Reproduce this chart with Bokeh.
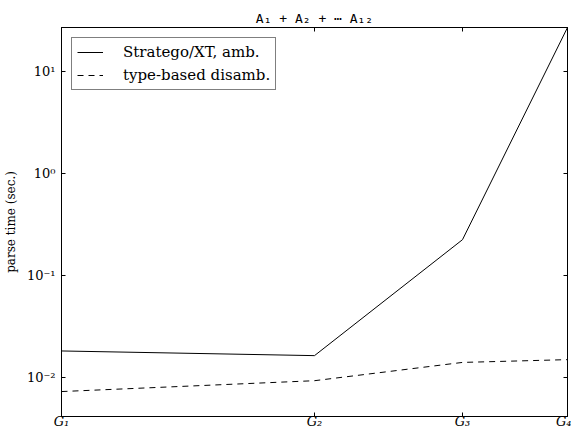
from bokeh.plotting import figure
from bokeh.models import LogAxis, FixedTicker, Range1d, Legend, LegendItem
from bokeh.embed import file_html
from bokeh.resources import INLINE

# ---- data ----
grammars = [1, 2, 3, 4]
grammar_labels = ["G₁", "G₂", "G₃", "G₄"]
stratego_amb = [0.018, 0.0162, 0.222, 26.7]
type_based = [0.0072, 0.0092, 0.0139, 0.0148]
y_ticks = [0.01, 0.1, 1, 10]
y_tick_labels = ["10⁻²", "10⁻¹", "10⁰", "10¹"]
series_names = ["Stratego/XT, amb.", "type-based disamb."]
title_text = "A₁ + A₂ + ⋯ A₁₂"
y_label = "parse time (sec.)"

SERIF = "DejaVu Serif"
INK = "black"

p = figure(width=571, height=431,
           x_axis_type="log", y_axis_type="log",
           x_range=Range1d(1, 4), y_range=Range1d(0.0041, 26.7),
           output_backend="svg", toolbar_location=None,
           min_border_left=57, min_border_right=4,
           min_border_top=27, min_border_bottom=0)

p.title.text = title_text
p.title.text_font = "DejaVu Sans Mono"
p.title.text_font_size = "13px"
p.title.text_font_style = "normal"
p.title.text_color = INK
p.title.align = "center"
p.title.standoff = 4
p.title.offset = 0

p.grid.visible = False
p.background_fill_color = "white"
p.border_fill_color = "white"
p.outline_line_color = INK
p.outline_line_width = 1
p.outline_line_alpha = 1

r1 = p.line(grammars, stratego_amb, line_color=INK, line_width=1)
r2 = p.line(grammars, type_based, line_color=INK, line_width=1, line_dash="6 5")

# bottom axis
xa = p.xaxis[0]
xa.axis_label = None
xa.ticker = FixedTicker(ticks=grammars, minor_ticks=[])
xa.major_label_overrides = {g: lab for g, lab in zip(grammars, grammar_labels)}
xa.major_label_text_font = SERIF
xa.major_label_text_font_style = "italic"
xa.major_label_text_font_size = "13px"
xa.major_label_text_line_height = 1.0
xa.major_label_text_color = INK
xa.major_label_standoff = -3
xa.major_tick_in = 4
xa.major_tick_out = 0
xa.minor_tick_line_color = None
xa.axis_line_color = INK
xa.major_tick_line_color = INK

# left axis
ya = p.yaxis[0]
ya.ticker = FixedTicker(ticks=y_ticks, minor_ticks=[])
ya.major_label_overrides = {t: lab for t, lab in zip(y_ticks, y_tick_labels)}
ya.major_label_text_font = SERIF
ya.major_label_text_font_size = "13px"
ya.major_label_text_color = INK
ya.major_label_standoff = 6
ya.major_tick_in = 4
ya.major_tick_out = 0
ya.minor_tick_line_color = None
ya.axis_line_color = INK
ya.major_tick_line_color = INK
ya.axis_label = y_label
ya.axis_label_text_font = SERIF
ya.axis_label_text_font_style = "normal"
ya.axis_label_text_font_size = "12px"
ya.axis_label_text_color = INK
ya.axis_label_standoff = 6

# mirrored tick axes (right / top)
ra = LogAxis(ticker=FixedTicker(ticks=y_ticks, minor_ticks=[]),
             major_label_overrides={t: "" for t in y_ticks},
             major_label_text_font_size="0px", major_label_standoff=0,
             major_tick_in=4, major_tick_out=0, minor_tick_line_color=None,
             axis_line_color=INK, major_tick_line_color=INK)
p.add_layout(ra, "right")
ta = LogAxis(ticker=FixedTicker(ticks=grammars, minor_ticks=[]),
             major_label_overrides={g: "" for g in grammars},
             major_label_text_font_size="0px", major_label_standoff=0,
             major_tick_in=4, major_tick_out=0, minor_tick_line_color=None,
             axis_line_color=INK, major_tick_line_color=INK)
p.add_layout(ta, "above")

legend = Legend(items=[LegendItem(label=series_names[0], renderers=[r1]),
                       LegendItem(label=series_names[1], renderers=[r2])],
                location="top_left")
legend.margin = 10
legend.padding = 5
legend.spacing = 5
legend.glyph_width = 26
legend.glyph_height = 18
legend.label_height = 18
legend.label_standoff = 20
legend.label_text_font = SERIF
legend.label_text_font_size = "15px"
legend.label_text_color = INK
legend.border_line_color = INK
legend.border_line_width = 1
legend.background_fill_alpha = 1
p.add_layout(legend)

open("out.html", "w").write(file_html(p, INLINE))
